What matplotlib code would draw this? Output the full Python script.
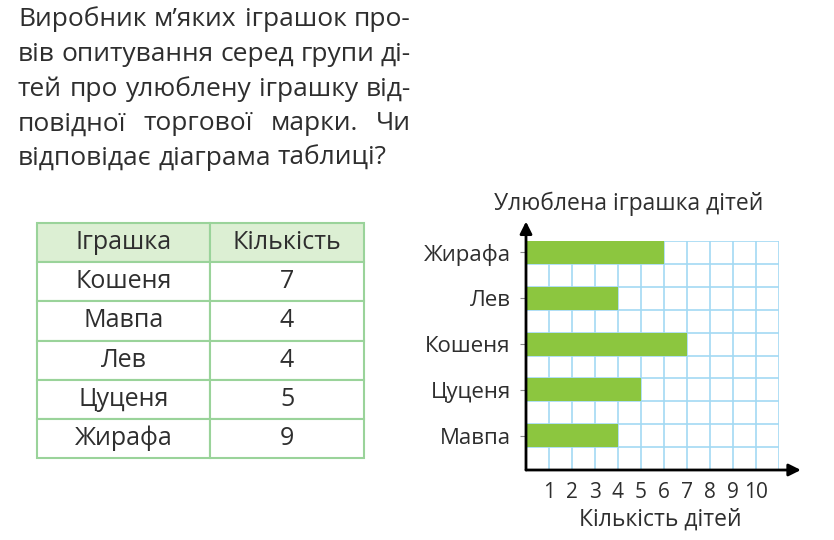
import numpy as np
import matplotlib.pyplot as plt

plt.rcParams['font.family'] = ['Open Sans', 'DejaVu Sans']

W, H = 834, 540

paragraph = [
    'Виробник м’яких іграшок про-',
    'вів опитування серед групи ді-',
    'тей про улюблену іграшку від-',
    'повідної торгової марки. Чи',
    'відповідає діаграма таблиці?',
]

table_header = ['Іграшка', 'Кількість']
table_toys = ['Кошеня', 'Мавпа', 'Лев', 'Цуценя', 'Жирафа']
table_counts = [7, 4, 4, 5, 9]

chart_toys = ['Мавпа', 'Цуценя', 'Кошеня', 'Лев', 'Жирафа']
chart_counts = [4, 5, 7, 4, 6]
x_ticks = list(range(1, 11))
chart_title = 'Улюблена іграшка дітей'
x_label = 'Кількість дітей'

TEXT = '#2e2e2e'
BAR = '#8cc63f'
GRID = '#a3d9f3'
EDGE = '#9ad39a'
HEAD = '#dcefd3'


def fx(px):
    return px / W


def fy(py):
    return 1 - py / H


fig = plt.figure(figsize=(W / 100, H / 100), dpi=100)
renderer = fig.canvas.get_renderer()

# paragraph, justified like in the book
PSIZE = 19
x_left, x_right = 18, 411
baselines = [26, 60.75, 95.5, 130.25, 165]
probe = fig.text(0, 0, 'a a', fontsize=PSIZE)
probe2 = fig.text(0, 0, 'aa', fontsize=PSIZE)
space = probe.get_window_extent(renderer).width - probe2.get_window_extent(renderer).width
probe.remove()
probe2.remove()
for i, line in enumerate(paragraph):
    words = line.split(' ')
    texts = [fig.text(0, fy(baselines[i]), w, fontsize=PSIZE, color=TEXT, va='baseline')
             for w in words]
    widths = [t.get_window_extent(renderer).width for t in texts]
    if i < len(paragraph) - 1:
        gap = (x_right - x_left - sum(widths)) / (len(words) - 1)
    else:
        gap = space
    x = x_left
    for t, w in zip(texts, widths):
        t.set_x(fx(x))
        x += w + gap

# table
ax_t = fig.add_axes([fx(37), fy(458), (364 - 37) / W, (458 - 223) / H])
ax_t.axis('off')
tab = ax_t.table(cellText=[[t, str(c)] for t, c in zip(table_toys, table_counts)],
                 colLabels=table_header, bbox=[0, 0, 1, 1], cellLoc='center',
                 colWidths=[173 / 327, 154 / 327])
tab.auto_set_font_size(False)
tab.set_fontsize(18)
for (r, c), cell in tab.get_celld().items():
    cell.set_edgecolor(EDGE)
    cell.set_linewidth(1.5)
    cell.get_text().set_color(TEXT)
    if r == 0:
        cell.set_facecolor(HEAD)

# bar chart
ax = fig.add_axes([fx(526), fy(470), (779 - 526) / W, (470 - 241) / H])
ypos = [1.5 + 2 * i for i in range(len(chart_toys))]
ax.barh(ypos, chart_counts, height=1, color=BAR, zorder=3)
ax.set_xlim(0, 11)
ax.set_ylim(0, 10)
ax.set_xticks(x_ticks)
ax.set_xticks([0, 11], minor=True)
ax.set_yticks(ypos)
ax.set_yticklabels(chart_toys)
ax.set_yticks(np.arange(0, 11), minor=True)
ax.grid(which='both', axis='x', color=GRID, lw=1.2, zorder=0)
ax.grid(which='minor', axis='y', color=GRID, lw=1.2, zorder=0)
ax.set_axisbelow(True)
ax.tick_params(axis='x', which='both', length=0, pad=9, labelsize=15, labelcolor=TEXT)
ax.tick_params(axis='y', which='major', length=4, color='#888888', pad=7,
               labelsize=16, labelcolor=TEXT)
ax.tick_params(axis='y', which='minor', length=0)
for s in ax.spines.values():
    s.set_visible(False)
ax.annotate('', xy=(11.95, 0), xytext=(0, 0),
            arrowprops=dict(arrowstyle='-|>', color='black', lw=2, mutation_scale=18,
                            shrinkA=0, shrinkB=0), annotation_clip=False)
ax.annotate('', xy=(0, 10.85), xytext=(0, 0),
            arrowprops=dict(arrowstyle='-|>', color='black', lw=2, mutation_scale=18,
                            shrinkA=0, shrinkB=0), annotation_clip=False)
ax.set_title(chart_title, fontsize=16.5, color=TEXT, x=(629 - 526) / 253, pad=22)
ax.set_xlabel(x_label, fontsize=16.5, color=TEXT)
ax.xaxis.set_label_coords((660 - 526) / 253, -(508 - 470) / 229)

fig.savefig('out.png', dpi=100)
